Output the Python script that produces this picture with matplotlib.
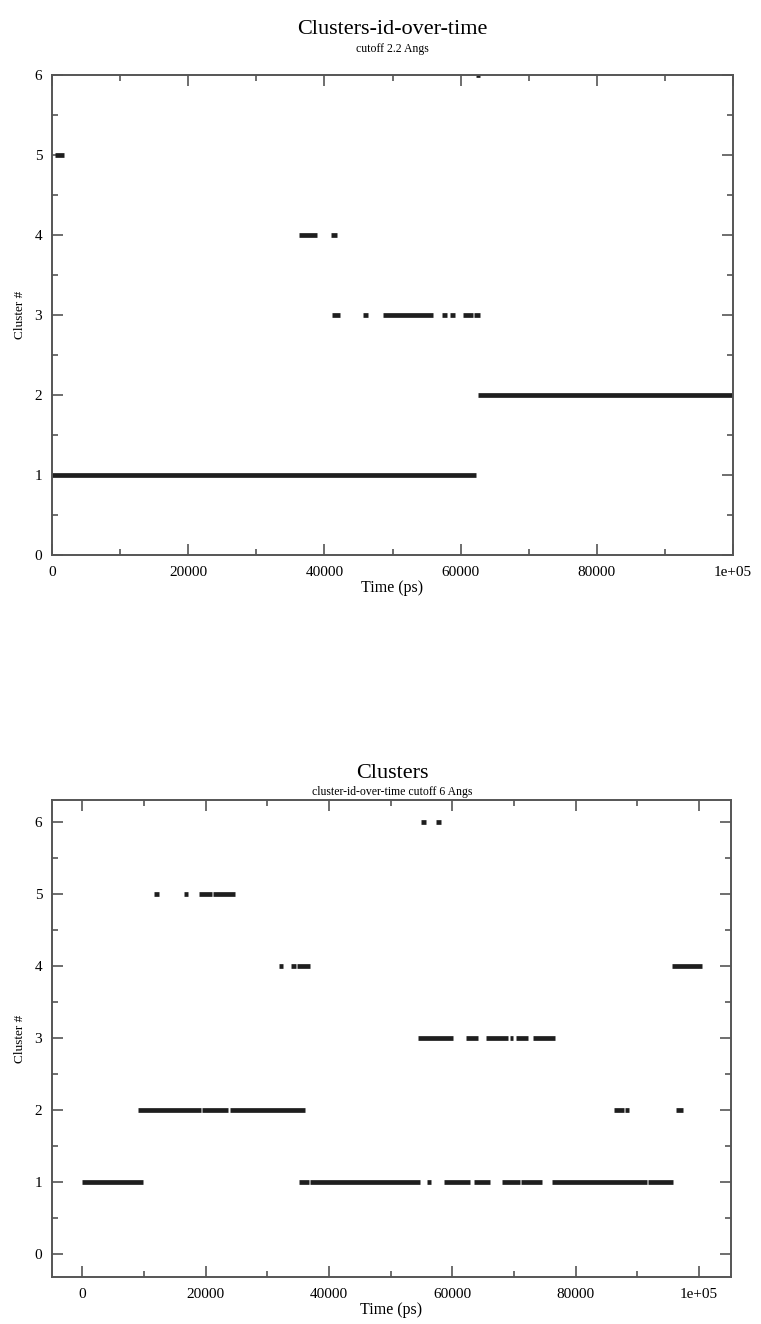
import matplotlib
matplotlib.use("Agg")
import matplotlib.pyplot as plt
from matplotlib.ticker import MultipleLocator, FixedLocator, FuncFormatter

plt.rcParams['font.family'] = ['Liberation Serif', 'DejaVu Serif']

# ---------------- data: (cluster id, start ps, end ps) ----------------
top_cluster = [1, 2, 5, 4, 4, 3, 3, 3, 3, 3, 3, 3, 6]
top_start = [0, 62500, 500, 36200, 40900, 41100, 45700, 48600, 57300, 58400, 60400, 62000, 62300]
top_end = [62300, 100000, 1800, 38900, 41900, 42300, 46400, 55900, 58000, 59200, 61800, 62800, 62800]

bot_cluster = [1, 1, 1, 1, 1, 1, 1, 1, 1, 1,
               2, 2, 2, 2, 2, 2,
               3, 3, 3, 3, 3, 3,
               4, 4, 4, 4,
               5, 5, 5, 5,
               6, 6]
bot_start = [0, 35100, 36900, 55900, 58600, 63600, 68100, 71200, 76200, 91800,
             9100, 19400, 23900, 86300, 88000, 96300,
             54500, 62300, 65500, 69400, 70400, 73100,
             31900, 33800, 34900, 95700,
             11700, 16500, 18900, 21200,
             54900, 57300]
bot_end = [9900, 36700, 54800, 56500, 62800, 66200, 71000, 74600, 91600, 95800,
           19200, 23700, 36200, 87800, 88700, 97400,
           60200, 64100, 69100, 69900, 72300, 76600,
           32600, 34600, 37000, 100500,
           12500, 17200, 21000, 24800,
           55700, 58100]

x_ticks = [0, 20000, 40000, 60000, 80000, 100000]
x_ticklabels = ["0", "20000", "40000", "60000", "80000", "1e+05"]
y_ticks = [0, 1, 2, 3, 4, 5, 6]

top_title = "Clusters-id-over-time"
top_sub = "cutoff 2.2 Angs"
bot_title = "Clusters"
bot_sub = "cluster-id-over-time cutoff 6 Angs"
xlabel = "Time (ps)"
ylabel = "Cluster #"

W, H = 761, 1324
fig = plt.figure(figsize=(W / 100, H / 100), dpi=100)

line_color = "#1e1e1e"
spine_color = "#555555"


def style(ax, xlim, ylim):
    ax.set_xlim(*xlim)
    ax.set_ylim(*ylim)
    ax.xaxis.set_major_locator(FixedLocator(x_ticks))
    ax.xaxis.set_major_formatter(FuncFormatter(
        lambda v, p: x_ticklabels[x_ticks.index(int(round(v)))] if int(round(v)) in x_ticks else ""))
    ax.xaxis.set_minor_locator(MultipleLocator(10000))
    ax.yaxis.set_major_locator(FixedLocator(y_ticks))
    ax.yaxis.set_minor_locator(MultipleLocator(0.5))
    ax.tick_params(which="both", direction="in", top=True, right=True,
                   color=spine_color, labelsize=11, width=1.2)
    ax.tick_params(which="major", length=8)
    ax.tick_params(which="minor", length=4)
    ax.tick_params(axis="x", which="major", pad=8)
    ax.tick_params(axis="y", which="major", pad=7)
    for s in ax.spines.values():
        s.set_color(spine_color)
        s.set_linewidth(1.4)
    ax.set_xlabel(xlabel, fontsize=11.5, labelpad=1)
    ax.set_ylabel(ylabel, fontsize=9.5, labelpad=6)


# top axes
ax1 = fig.add_axes([52 / W, 1 - 555 / H, (733 - 52) / W, (555 - 75) / H])
ax1.hlines(top_cluster, top_start, top_end, colors=line_color, linewidth=3.4)
style(ax1, (0, 100000), (0, 6))

# bottom axes
ax2 = fig.add_axes([52 / W, 1 - 1277 / H, (731 - 52) / W, (1277 - 800) / H])
ax2.hlines(bot_cluster, bot_start, bot_end, colors=line_color, linewidth=3.4)
style(ax2, (-4900, 105200), (-0.32, 6.3))

fig.text(392 / W, 1 - 30 / H, top_title, ha="center", va="center", fontsize=16)
fig.text(392 / W, 1 - 49 / H, top_sub, ha="center", va="center", fontsize=8.5)
fig.text(392 / W, 1 - 774 / H, bot_title, ha="center", va="center", fontsize=16)
fig.text(392 / W, 1 - 792 / H, bot_sub, ha="center", va="center", fontsize=8.5)

fig.savefig("out.png", dpi=100, facecolor="white")
